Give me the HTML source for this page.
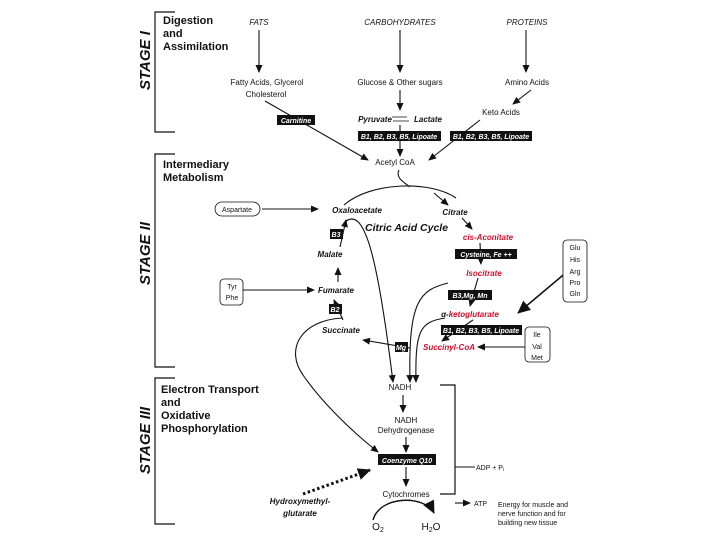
<!DOCTYPE html>
<html><head><meta charset="utf-8"><style>
body{margin:0;background:#fff}
svg{display:block;font-family:"Liberation Sans",sans-serif}
.b{font-weight:bold}
.bi{font-weight:bold;font-style:italic}
.r{fill:#c8102e}
.w{fill:#fff;font-weight:bold;font-style:italic;font-size:7px}
</style></head><body>
<svg width="720" height="540" viewBox="0 0 720 540">
<defs><marker id="a" markerWidth="8" markerHeight="8" refX="7" refY="4" orient="auto" markerUnits="userSpaceOnUse"><path d="M0,0.5 L8,4 L0,7.5 Z" fill="#111"/></marker>
<marker id="A" markerWidth="14" markerHeight="14" refX="12" refY="7" orient="auto" markerUnits="userSpaceOnUse"><path d="M0,1 L13,7 L0,13 Z" fill="#111"/></marker></defs>
<g stroke="#111" stroke-width="1.2" fill="none">
<path d="M175,12 H155 V132 H175"/><path d="M175,154 H155 V367 H175"/><path d="M175,378 H155 V524 H175"/>
<path d="M440,385 H455 V494 H440"/>
</g>
<g font-size="15" class="bi" fill="#111">
<text transform="translate(150,90) rotate(-90)">STAGE I</text>
<text transform="translate(150,285) rotate(-90)">STAGE II</text>
<text transform="translate(150,474) rotate(-90)">STAGE III</text>
</g>
<g font-size="11" class="b" fill="#111">
<text x="163" y="24">Digestion</text><text x="163" y="37">and</text><text x="163" y="50">Assimilation</text>
<text x="163" y="168">Intermediary</text><text x="163" y="181">Metabolism</text>
<text x="161" y="393">Electron Transport</text><text x="161" y="406">and</text><text x="161" y="419">Oxidative</text><text x="161" y="432">Phosphorylation</text>
</g>
<g font-size="8" font-style="italic" fill="#111" text-anchor="middle">
<text x="259" y="25">FATS</text><text x="400" y="25">CARBOHYDRATES</text><text x="527" y="25">PROTEINS</text>
</g>
<g font-size="8" fill="#111" text-anchor="middle">
<text x="267" y="85">Fatty Acids, Glycerol</text><text x="266" y="97">Cholesterol</text>
<text x="400" y="85">Glucose &amp; Other sugars</text><text x="527" y="85">Amino Acids</text>
<text x="501" y="115">Keto Acids</text><text x="395" y="165">Acetyl CoA</text>
<text x="400" y="390">NADH</text><text x="406" y="423">NADH</text><text x="406" y="433">Dehydrogenase</text>
<text x="406" y="497">Cytochromes</text>
<text x="378" y="530" font-size="10">O<tspan font-size="7" dy="2">2</tspan></text>
<text x="431" y="530" font-size="10">H<tspan font-size="7" dy="2">2</tspan><tspan dy="-2">O</tspan></text>
</g>
<g font-size="7" fill="#111">
<text x="476" y="470">ADP +  P<tspan font-size="5" dy="1">i</tspan></text>
<text x="474" y="506">ATP</text>
<text x="498" y="507">Energy for muscle and</text><text x="498" y="516">nerve function and for</text><text x="498" y="525">building new tissue</text>
</g>
<g stroke="#111" stroke-width="1.1" fill="none" marker-end="url(#a)">
<path d="M259,30 V72"/><path d="M400,30 V72"/><path d="M526,30 V72"/>
<path d="M531,90 L513,104"/><path d="M400,90 V110"/>
<path d="M265,101 L368,160"/><path d="M480,120 L429,160"/><path d="M400,125 V156"/>
<path d="M262,209 H318"/><path d="M243,290 H314"/>
<path d="M456,198 C430,180 370,182 344,205" marker-end="none"/>
<path d="M399,170 C395,178 405,183 410,187" marker-end="none"/>
<path d="M434,193 L448,205"/>
<path d="M462,218 L472,229"/><path d="M480,243 L481,264"/><path d="M478,278 L470,306"/>
<path d="M473,320 L442,341"/><path d="M410,348 L363,340" /><path d="M525,347 L478,347"/>
<path d="M338,282 V268"/><path d="M343,320 L334,300"/><path d="M340,247 L346,220"/>
<path d="M587,255 L518,313" stroke-width="1.5" marker-end="url(#A)"/>
<path d="M345,222 C365,205 378,260 393,382"/>
<path d="M448,283 C420,290 408,300 410,382"/>
<path d="M445,318 C420,322 415,330 416,382"/>
<path d="M343,318 C300,320 285,350 303,375 C320,400 350,430 378,452"/>
<path d="M403,395 V412"/><path d="M406,437 V452"/><path d="M406,467 V486"/>
<path d="M373,520 C380,495 425,495 434,513" stroke-width="1.4" marker-end="url(#A)"/>
<path d="M455,467 H475" marker-end="none"/><path d="M455,503 H470"/>
<path d="M303,494 L370,470" stroke-width="3" stroke-dasharray="2.5,2.5" marker-end="url(#A)"/>
</g>
<path d="M392,117 h15 M393,121 h16" stroke="#111" stroke-width="0.8"/>
<g fill="#111"><rect x="277" y="115" width="38" height="10"/><rect x="358" y="131" width="83" height="10"/><rect x="450" y="131" width="82" height="10"/>
<rect x="455" y="249" width="62" height="10"/><rect x="448" y="290" width="44" height="10"/><rect x="441" y="325" width="81" height="10"/>
<rect x="395" y="342" width="13" height="10"/><rect x="329" y="304" width="13" height="10"/><rect x="330" y="229" width="13" height="10"/>
<rect x="378" y="454" width="58" height="11"/></g>
<g class="w" text-anchor="middle">
<text x="296" y="123">Carnitine</text><text x="399" y="139">B1, B2, B3, B5, Lipoate</text><text x="491" y="139">B1, B2, B3, B5, Lipoate</text>
<text x="486" y="257">Cysteine, Fe  ++</text><text x="470" y="298">B3,Mg, Mn</text><text x="481" y="333">B1, B2, B3, B5, Lipoate</text>
<text x="401" y="350">Mg</text><text x="335" y="312">B2</text><text x="336" y="237">B3</text><text x="407" y="463">Coenzyme Q10</text>
</g>
<g font-size="8" class="bi" text-anchor="middle" fill="#111">
<text x="375" y="122" text-anchor="middle">Pyruvate</text><text x="428" y="122">Lactate</text>
<text x="357" y="213">Oxaloacetate</text><text x="455" y="215">Citrate</text>
<text x="330" y="257">Malate</text><text x="336" y="293">Fumarate</text><text x="341" y="333">Succinate</text>
<text x="300" y="504">Hydroxymethyl-</text><text x="300" y="516">glutarate</text>
<text x="488" y="240" class="r">cis-Aconitate</text><text x="484" y="276" class="r">Isocitrate</text>
<text x="470" y="317"><tspan>α-</tspan><tspan class="r">ketoglutarate</tspan></text>
<text x="449" y="350" class="r">Succinyl-CoA</text>
</g>
<text x="365" y="231" font-size="10.5" class="bi" fill="#111">Citric Acid Cycle</text>
<g stroke="#111" stroke-width="0.8" fill="#fff">
<rect x="215" y="202" width="45" height="14" rx="7"/><rect x="220" y="279" width="23" height="26" rx="4"/>
<rect x="563" y="240" width="24" height="62" rx="4"/><rect x="525" y="327" width="25" height="35" rx="4"/>
</g>
<g font-size="7" fill="#111" text-anchor="middle">
<text x="237" y="212">Aspartate</text><text x="232" y="289">Tyr</text><text x="232" y="300">Phe</text>
<text x="575" y="250">Glu</text><text x="575" y="262">His</text><text x="575" y="274">Arg</text><text x="575" y="285">Pro</text><text x="575" y="296">Gln</text>
<text x="537" y="337">Ile</text><text x="537" y="349">Val</text><text x="537" y="360">Met</text>
</g>
</svg>
</body></html>
